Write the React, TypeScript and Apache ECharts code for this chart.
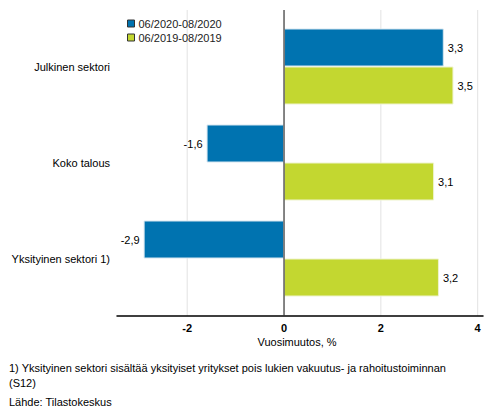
import * as echarts from 'echarts';
import { useEffect, useRef } from 'react';

const categories = ['Julkinen sektori', 'Koko talous', 'Yksityinen sektori 1)'];
const seriesNames = ['06/2020-08/2020', '06/2019-08/2019'];
const values2020 = [3.3, -1.6, -2.9];
const values2019 = [3.5, 3.1, 3.2];
const xTicks = [-2, 0, 2, 4];
const axisTitle = 'Vuosimuutos, %';
const footnotes = [
  '1) Yksityinen sektori sisältää yksityiset yritykset pois lukien vakuutus- ja rahoitustoiminnan',
  '(S12)',
  'Lähde: Tilastokeskus',
];

const FONT = '"Liberation Sans", Arial, sans-serif';
const colors = ['#0073b0', '#c3d730'];

const barData = (vals: number[]) =>
  vals.map((v) => ({
    value: v,
    label: { position: v < 0 ? 'left' : 'right' },
  }));

export default function App() {
  const chartRef = useRef<HTMLDivElement>(null);

  useEffect(() => {
    document.body.style.margin = '0';
    if (!chartRef.current) return;
    const chart = echarts.init(chartRef.current, null, { renderer: 'svg' });

    const seriesBase = {
      type: 'bar',
      barWidth: 38,
      barGap: '0%',
      label: {
        show: true,
        distance: 4,
        color: '#000',
        fontSize: 11,
        fontFamily: FONT,
        formatter: (p: any) => String(p.value).replace('.', ','),
      },
    };

    chart.setOption({
      animation: false,
      textStyle: { fontFamily: FONT },
      grid: { left: 117, right: 10, top: 18.5, height: 288 },
      legend: {
        data: seriesNames,
        orient: 'vertical',
        left: 122,
        top: 13,
        itemWidth: 7,
        itemHeight: 7,
        itemGap: 3,
        icon: 'rect',
        selectedMode: false,
        textStyle: { fontSize: 11, color: '#222', fontFamily: FONT, padding: [0, 0, 0, -1] },
        itemStyle: { borderColor: '#333', borderWidth: 1 },
      },
      xAxis: {
        type: 'value',
        min: -3.45,
        max: 4.11,
        offset: 9.5,
        axisLine: { show: true, onZero: false, lineStyle: { color: '#000', width: 1.5 } },
        axisTick: { show: false, customValues: xTicks },
        splitLine: { show: false },
        axisLabel: {
          customValues: xTicks,
          margin: 6,
          fontSize: 11,
          fontWeight: 'bold',
          color: '#000',
          fontFamily: FONT,
        },
      },
      yAxis: {
        type: 'category',
        inverse: true,
        data: categories,
        axisLine: { show: false },
        axisTick: { show: false },
        axisLabel: { fontSize: 11, color: '#000', margin: 7, fontFamily: FONT },
      },
      series: [
        { ...seriesBase, name: seriesNames[0], data: barData(values2020), itemStyle: { color: colors[0], borderColor: '#d6e6f0', borderWidth: 1 } },
        { ...seriesBase, name: seriesNames[1], data: barData(values2019), itemStyle: { color: colors[1], borderColor: '#eef3cc', borderWidth: 1 } },
      ],
    });

    const lines = xTicks.map((t) => {
      const x = chart.convertToPixel({ xAxisIndex: 0 }, t) as number;
      return {
        type: 'line',
        z: t === 0 ? 10 : -10,
        shape: { x1: x, y1: 10, x2: x, y2: 316 },
        style: { stroke: t === 0 ? '#333' : '#e3e3e3', lineWidth: t === 0 ? 1.2 : 1 },
      };
    });
    const notes = footnotes.map((txt, i) => ({
      type: 'text',
      left: 9,
      top: [362, 377, 396][i],
      style: { text: txt, fill: '#000', font: `11px ${FONT}` },
    }));
    const title = {
      type: 'text',
      x: (117 + 483) / 2 - 3,
      y: 342,
      style: { text: axisTitle, fill: '#000', font: `11px ${FONT}`, align: 'center', verticalAlign: 'middle' },
    };
    chart.setOption({ graphic: [...lines, ...notes, title] });

    return () => chart.dispose();
  }, []);

  return <div ref={chartRef} style={{ width: 493, height: 416 }} />;
}
